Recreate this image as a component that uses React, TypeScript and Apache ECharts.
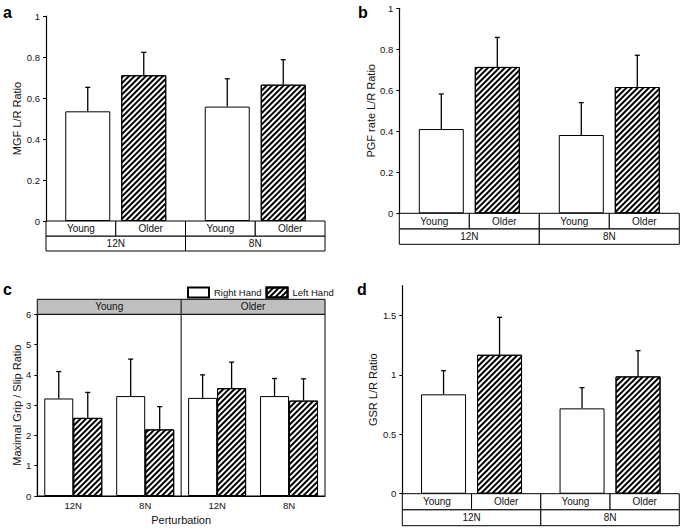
import React, { useEffect, useRef } from "react";
import * as echarts from "echarts";

// ---- data ----
const groups = ["12N", "8N"];
const ages = ["Young", "Older"];

const mgfYoung = [0.535, 0.558];
const mgfYoungErr = [0.117, 0.136];
const mgfOlder = [0.711, 0.665];
const mgfOlderErr = [0.112, 0.122];

const pgfYoung = [0.411, 0.382];
const pgfYoungErr = [0.171, 0.158];
const pgfOlder = [0.714, 0.616];
const pgfOlderErr = [0.144, 0.155];

const gsrYoung = [0.836, 0.718];
const gsrYoungErr = [0.199, 0.174];
const gsrOlder = [1.169, 0.987];
const gsrOlderErr = [0.315, 0.216];

const perturbCats = ["12N", "8N", "12N", "8N"];
const rightHand = [3.22, 3.3, 3.24, 3.3];
const rightHandErr = [0.89, 1.22, 0.76, 0.58];
const leftHand = [2.58, 2.2, 3.56, 3.15];
const leftHandErr = [0.84, 0.75, 0.86, 0.72];
const handNames = ["Right Hand", "Left Hand"];

const FONT = "Liberation Sans, Arial, Helvetica, sans-serif";

const hatch = {
  symbol: "rect",
  symbolSize: 1,
  color: "#000",
  backgroundColor: "#fff",
  dashArrayX: [1, 0],
  dashArrayY: [1.1, 2],
  rotation: -Math.PI / 4,
};

function errRender(offset: number) {
  return (params: any, api: any) => {
    const c = api.value(0);
    const v = api.value(1);
    const e = api.value(2);
    const p0 = api.coord([c, v]);
    const p1 = api.coord([c, v + e]);
    const x = p0[0] + offset;
    return {
      type: "group",
      children: [
        { type: "line", shape: { x1: x, y1: p0[1], x2: x, y2: p1[1] }, style: { stroke: "#000", lineWidth: 1.3 } },
        { type: "line", shape: { x1: x - 2.5, y1: p1[1], x2: x + 2.5, y2: p1[1] }, style: { stroke: "#000", lineWidth: 1.3 } },
      ],
    };
  };
}

type Panel = {
  letter: string;
  lx: number;
  ly: number;
  left: number;
  top: number;
  width: number;
  height: number;
  max: number;
  interval: number;
  custom?: number[];
  name: string;
  nameGap: number;
  young: number[];
  youngErr: number[];
  older: number[];
  olderErr: number[];
  rowH: number;
};

const tablePanels: Panel[] = [
  { letter: "a", lx: 3, ly: 12, left: 46, top: 16, width: 279, height: 205, max: 1, interval: 0.2, name: "MGF L/R Ratio", nameGap: 21, young: mgfYoung, youngErr: mgfYoungErr, older: mgfOlder, olderErr: mgfOlderErr, rowH: 15 },
  { letter: "b", lx: 358, ly: 12, left: 399.3, top: 8.3, width: 280, height: 205, max: 1, interval: 0.2, name: "PGF rate L/R Ratio", nameGap: 20.5, young: pgfYoung, youngErr: pgfYoungErr, older: pgfOlder, olderErr: pgfOlderErr, rowH: 15.5 },
  { letter: "d", lx: 357, ly: 289.5, left: 402.3, top: 285.7, width: 277, height: 208, max: 1.75, interval: 0.5, custom: [0, 0.5, 1, 1.5], name: "GSR L/R Ratio", nameGap: 23.5, young: gsrYoung, youngErr: gsrYoungErr, older: gsrOlder, olderErr: gsrOlderErr, rowH: 16 },
];

const C = { left: 37.3, top: 314.3, width: 287.7, height: 181.7 };

export default function App() {
  const ref = useRef<HTMLDivElement>(null);
  useEffect(() => {
    if (!ref.current) return;
    const chart = echarts.init(ref.current, undefined, { renderer: "svg" });

    const grids: any[] = [];
    const xAxes: any[] = [];
    const yAxes: any[] = [];
    const series: any[] = [];
    const graphics: any[] = [];

    const axisLabelStyle = { fontSize: 9.5, color: "#111", fontFamily: FONT };

    tablePanels.forEach((p, i) => {
      grids.push({ left: p.left, top: p.top, width: p.width, height: p.height });
      xAxes.push({ type: "category", gridIndex: i, data: groups, show: false });
      yAxes.push({
        type: "value",
        gridIndex: i,
        min: 0,
        max: p.max,
        interval: p.interval,
        name: p.name,
        nameLocation: "middle",
        nameGap: p.nameGap,
        nameTextStyle: { fontSize: 11, color: "#111", fontFamily: FONT },
        axisLine: { show: true, lineStyle: { color: "#000", width: 1.2 } },
        axisTick: { show: true, length: 3, lineStyle: { color: "#000" }, ...(p.custom ? { customValues: p.custom } : {}) },
        axisLabel: { ...axisLabelStyle, margin: 6, ...(p.custom ? { customValues: p.custom } : {}) },
        splitLine: { show: false },
      });
      series.push({
        type: "bar",
        name: ages[0],
        xAxisIndex: i,
        yAxisIndex: i,
        data: p.young,
        barWidth: 45,
        barGap: "24.4%",
        itemStyle: { color: "#fff", borderColor: "#000", borderWidth: 1 },
      });
      series.push({
        type: "bar",
        name: ages[1],
        xAxisIndex: i,
        yAxisIndex: i,
        data: p.older,
        barWidth: 45,
        barGap: "24.4%",
        itemStyle: { color: "#fff", borderColor: "#000", borderWidth: 1, decal: hatch },
      });
      series.push({
        type: "custom",
        xAxisIndex: i,
        yAxisIndex: i,
        renderItem: errRender(-28),
        encode: { x: 0, y: 1 },
        data: p.young.map((v, k) => [k, v, p.youngErr[k]]),
        z: 5,
      });
      series.push({
        type: "custom",
        xAxisIndex: i,
        yAxisIndex: i,
        renderItem: errRender(28),
        encode: { x: 0, y: 1 },
        data: p.older.map((v, k) => [k, v, p.olderErr[k]]),
        z: 5,
      });
      // table
      const t0 = p.top + p.height;
      const gw = p.width / groups.length;
      const sw = gw / ages.length;
      groups.forEach((g, gi) => {
        graphics.push({
          type: "rect",
          shape: { x: p.left + gi * gw, y: t0 + p.rowH, width: gw, height: p.rowH },
          style: { fill: "#fff", stroke: "#000", lineWidth: 1 },
        });
        graphics.push({
          type: "text",
          x: p.left + gi * gw + gw / 2,
          y: t0 + p.rowH * 1.5,
          style: { text: g, fontSize: 10, fontFamily: FONT, fill: "#111", align: "center", verticalAlign: "middle" },
        });
        ages.forEach((a, ai) => {
          const x = p.left + gi * gw + ai * sw;
          graphics.push({
            type: "rect",
            shape: { x, y: t0, width: sw, height: p.rowH },
            style: { fill: "#fff", stroke: "#000", lineWidth: 1 },
          });
          graphics.push({
            type: "text",
            x: x + sw / 2,
            y: t0 + p.rowH / 2,
            style: { text: a, fontSize: 10, fontFamily: FONT, fill: "#111", align: "center", verticalAlign: "middle" },
          });
        });
      });
      graphics.push({
        type: "text",
        x: p.lx,
        y: p.ly,
        style: { text: p.letter, fontSize: 16, fontWeight: "bold", fontFamily: FONT, fill: "#000", verticalAlign: "middle" },
      });
    });

    // panel c
    const ci = tablePanels.length;
    grids.push({ left: C.left, top: C.top, width: C.width, height: C.height, show: true, borderColor: "#000", borderWidth: 1, backgroundColor: "transparent" });
    xAxes.push({
      type: "category",
      gridIndex: ci,
      data: perturbCats,
      name: "Perturbation",
      nameLocation: "middle",
      nameGap: 18,
      nameTextStyle: { fontSize: 11, color: "#111", fontFamily: FONT },
      axisLine: { show: true, lineStyle: { color: "#000", width: 1.2 } },
      axisTick: { show: false },
      axisLabel: { ...axisLabelStyle, margin: 4 },
    });
    yAxes.push({
      type: "value",
      gridIndex: ci,
      min: 0,
      max: 6,
      interval: 1,
      name: "Maximal Grip / Slip Ratio",
      nameLocation: "middle",
      nameGap: 12.5,
      nameTextStyle: { fontSize: 11, color: "#111", fontFamily: FONT },
      axisLine: { show: true, lineStyle: { color: "#000", width: 1.2 } },
      axisTick: { show: true, length: 3, lineStyle: { color: "#000" } },
      axisLabel: { ...axisLabelStyle, margin: 6 },
      splitLine: { show: false },
    });
    series.push({
      type: "bar",
      name: handNames[0],
      xAxisIndex: ci,
      yAxisIndex: ci,
      data: rightHand,
      barWidth: 29,
      barGap: "0%",
      itemStyle: { color: "#fff", borderColor: "#000", borderWidth: 1 },
    });
    series.push({
      type: "bar",
      name: handNames[1],
      xAxisIndex: ci,
      yAxisIndex: ci,
      data: leftHand,
      barWidth: 29,
      barGap: "0%",
      itemStyle: { color: "#fff", borderColor: "#000", borderWidth: 1, decal: hatch },
    });
    series.push({
      type: "custom",
      xAxisIndex: ci,
      yAxisIndex: ci,
      renderItem: errRender(-14.5),
      encode: { x: 0, y: 1 },
      data: rightHand.map((v, k) => [k, v, rightHandErr[k]]),
      z: 5,
    });
    series.push({
      type: "custom",
      xAxisIndex: ci,
      yAxisIndex: ci,
      renderItem: errRender(14.5),
      encode: { x: 0, y: 1 },
      data: leftHand.map((v, k) => [k, v, leftHandErr[k]]),
      z: 5,
    });
    const hdrTop = 299.3;
    const hdrH = C.top - hdrTop;
    graphics.push({
      type: "rect",
      shape: { x: C.left, y: hdrTop, width: C.width, height: hdrH },
      style: { fill: "#c0c0c0", stroke: "#000", lineWidth: 1 },
    });
    graphics.push({
      type: "line",
      shape: { x1: C.left + C.width / 2, y1: hdrTop, x2: C.left + C.width / 2, y2: C.top + C.height },
      style: { stroke: "#000", lineWidth: 1 },
      z: 10,
    });
    ages.forEach((a, ai) => {
      graphics.push({
        type: "text",
        x: C.left + C.width / 4 + (ai * C.width) / 2,
        y: hdrTop + hdrH / 2,
        style: { text: a, fontSize: 10, fontFamily: FONT, fill: "#111", align: "center", verticalAlign: "middle" },
      });
    });
    graphics.push({
      type: "text",
      x: 3,
      y: 289.5,
      style: { text: "c", fontSize: 16, fontWeight: "bold", fontFamily: FONT, fill: "#000", verticalAlign: "middle" },
    });

    chart.setOption({
      animation: false,
      backgroundColor: "#fff",
      textStyle: { fontFamily: FONT },
      grid: grids,
      xAxis: xAxes,
      yAxis: yAxes,
      series,
      legend: {
        data: handNames,
        left: 187,
        top: 286.5,
        padding: 0,
        itemWidth: 21,
        itemHeight: 10,
        itemGap: 4,
        icon: "rect",
        textStyle: { fontSize: 9.5, color: "#111", fontFamily: FONT },
      },
      graphic: graphics,
    });
    return () => chart.dispose();
  }, []);
  return <div ref={ref} style={{ position: "absolute", left: 0, top: 0, width: 685, height: 532 }} />;
}
